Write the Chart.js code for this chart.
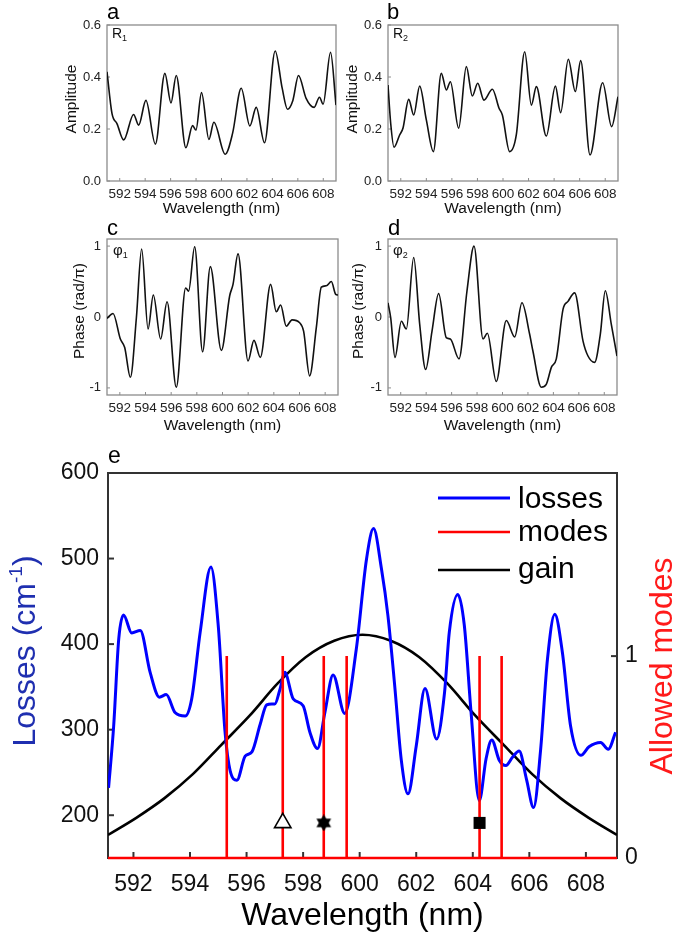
<!DOCTYPE html>
<html>
<head>
<meta charset="utf-8">
<title>Amplitude, phase and losses</title>
<script src="https://cdn.jsdelivr.net/npm/chart.js"></script>
<style>
  body { margin: 0; background: #fff; }
  .wrap { position: relative; width: 675px; height: 934px; overflow: hidden; }
  canvas { position: absolute; left: 0; }
</style>
</head>
<body>
<div class="wrap">
  <canvas id="chartA" width="675" height="222" style="top:0"></canvas>
  <canvas id="chartB" width="675" height="222" style="top:0"></canvas>
  <canvas id="chartC" width="675" height="225" style="top:215px"></canvas>
  <canvas id="chartD" width="675" height="225" style="top:215px"></canvas>
  <canvas id="chartE" width="675" height="504" style="top:430px"></canvas>
</div>
<script>
const FONT = "'Liberation Sans', Arial, sans-serif";

// shared wavelength axis of panels a-d
const wlTicks = [592, 594, 596, 598, 600, 602, 604, 606, 608];
const ampTicks = [0, 0.2, 0.4, 0.6];
const phaseTicks = [-1, 0, 1];

// a: amplitude R1
const r1Wl = [591.0, 591.39, 591.79, 592.31, 593.09, 593.49, 594.06, 594.80, 595.55, 596.03, 596.44, 597.20, 597.73, 597.99, 598.43, 599.01, 599.40, 600.29, 600.87, 601.55, 602.23, 602.73, 603.38, 604.22, 604.77, 605.19, 605.61, 606.05, 606.65, 607.28, 607.70, 607.99, 608.57, 609.0];
const r1Amp = [0.42, 0.26, 0.22, 0.158, 0.256, 0.215, 0.31, 0.142, 0.414, 0.30, 0.406, 0.128, 0.213, 0.196, 0.34, 0.16, 0.226, 0.103, 0.183, 0.357, 0.212, 0.283, 0.147, 0.50, 0.357, 0.276, 0.31, 0.406, 0.318, 0.283, 0.322, 0.296, 0.495, 0.292];

// b: amplitude R2
const r2Wl = [591.0, 591.21, 591.47, 591.91, 592.17, 592.62, 593.01, 593.48, 594.0, 594.55, 595.17, 595.57, 595.88, 596.53, 597.13, 597.60, 598.02, 598.51, 599.17, 599.69, 599.95, 600.52, 601.04, 601.70, 602.22, 602.61, 603.39, 604.10, 604.51, 605.11, 605.66, 606.08, 606.81, 607.80, 608.50, 609.0];
const r2Amp = [0.369, 0.222, 0.13, 0.177, 0.203, 0.314, 0.254, 0.365, 0.235, 0.113, 0.414, 0.35, 0.382, 0.203, 0.44, 0.327, 0.376, 0.311, 0.353, 0.28, 0.254, 0.113, 0.177, 0.497, 0.292, 0.363, 0.173, 0.365, 0.263, 0.468, 0.344, 0.463, 0.10, 0.378, 0.209, 0.324];

// c: phase phi1 (rad/pi)
const phi1Wl = [591.0, 591.47, 592.04, 592.38, 592.82, 593.29, 593.70, 594.20, 594.61, 595.18, 595.68, 596.40, 597.13, 597.36, 597.83, 598.45, 599.05, 599.91, 600.56, 600.82, 601.21, 601.99, 602.45, 602.95, 603.75, 604.19, 604.53, 604.97, 605.42, 606.01, 606.32, 606.79, 607.31, 607.70, 608.09, 608.48, 608.82, 609.0];
const phi1Val = [-0.02, 0.05, -0.31, -0.43, -0.85, -0.01, 0.96, -0.17, 0.31, -0.31, 0.215, -0.99, 0.41, 0.365, 0.99, -0.49, 0.71, -0.47, 0.30, 0.46, 0.89, -0.62, -0.33, -0.57, 0.46, 0.075, 0.17, -0.13, -0.04, -0.08, -0.2, -0.83, -0.15, 0.42, 0.44, 0.50, 0.32, 0.31];

// d: phase phi2 (rad/pi)
const phi2Wl = [591.0, 591.21, 591.55, 592.05, 592.44, 593.02, 593.49, 593.96, 594.46, 594.98, 595.58, 595.90, 596.58, 597.21, 597.76, 598.47, 598.81, 599.51, 600.30, 600.96, 601.53, 602.13, 602.39, 603.05, 603.44, 603.84, 604.23, 604.76, 605.15, 605.67, 606.33, 606.72, 607.24, 607.69, 608.08, 608.55, 609.0];
const phi2Val = [0.20, -0.01, -0.57, -0.06, -0.17, 0.84, -0.10, -0.74, -0.20, 0.33, -0.29, -0.31, -0.59, 0.37, 1.0, -0.31, -0.23, -0.91, -0.05, -0.28, 0.20, -0.24, -0.48, -0.99, -0.95, -0.71, -0.59, 0.11, 0.22, 0.34, -0.34, -0.55, -0.64, -0.24, 0.37, -0.10, -0.55];

// e: losses (cm-1), gain, allowed modes
const lossWl = [591.12, 591.30, 591.48, 591.65, 591.94, 592.24, 592.59, 592.92, 593.16, 593.47, 593.83, 594.06, 594.36, 594.74, 595.00, 595.24, 595.42, 595.66, 595.95, 596.19, 596.48, 596.71, 596.89, 597.00, 597.18, 597.35, 597.65, 598.00, 598.24, 598.51, 598.77, 599.06, 599.47, 599.88, 600.24, 600.49, 600.77, 601.00, 601.24, 601.47, 601.71, 602.00, 602.31, 602.72, 603.00, 603.17, 603.47, 603.70, 603.94, 604.23, 604.47, 604.67, 604.94, 605.17, 605.41, 605.64, 605.90, 606.15, 606.40, 606.64, 606.90, 607.17, 607.46, 607.82, 608.11, 608.52, 608.79, 609.05];
const lossVal = [232, 304, 406, 434, 413, 416, 367, 338, 341, 320, 316, 336, 414, 490, 421, 297, 252, 241, 269, 274, 306, 329, 330, 330, 347, 367, 336, 328, 297, 278, 320, 364, 319, 394, 499, 535, 488, 433, 351, 265, 225, 281, 348, 289, 343, 414, 458, 422, 320, 217, 266, 288, 264, 258, 268, 275, 242, 209, 277, 382, 435, 390, 304, 270, 280, 285, 277, 297];
const gainWl = [591.1, 592.1, 593.1, 594.1, 595.1, 596.1, 597.1, 598.1, 599.1, 600.1, 601.1, 602.1, 603.1, 604.1, 605.1, 606.1, 607.1, 608.1, 609.1];
const gainVal = [177, 197, 220, 248, 282, 316, 354, 385, 404, 411, 404, 385, 354, 316, 282, 248, 220, 197, 177];
const modeWl = [595.3, 597.28, 598.73, 599.54, 604.24, 605.02];
const markerWl = [597.28, 598.73, 604.24];
const markerLoss = [191, 191, 191];
const lossTicks = [200, 300, 400, 500, 600];
const modeTicks = [0, 1];

const pts = (xs, ys) => xs.map((x, i) => ({ x: x, y: ys[i] }));

// allowed modes: zero everywhere, a unit spike at each mode
const modeSeries = [{ x: 591.1, y: 0 }];
modeWl.forEach(m => { modeSeries.push({ x: m, y: 0 }, { x: m, y: 1 }, { x: m, y: 0 }); });
modeSeries.push({ x: 609.1, y: 0 });

// filled six-pointed star marker
function hexagram(size) {
  const c = document.createElement('canvas');
  c.width = c.height = size;
  const g = c.getContext('2d');
  const r = size / 2;
  g.fillStyle = '#000';
  [-Math.PI / 2, Math.PI / 2].forEach(off => {
    g.beginPath();
    for (let k = 0; k < 3; k++) {
      const a = off + k * 2 * Math.PI / 3;
      g.lineTo(r + r * Math.cos(a), r + r * Math.sin(a));
    }
    g.closePath();
    g.fill();
  });
  return c;
}

// text with sub/superscript parts: [text, size, dy]
function rich(ctx, parts, x, y, color, rotate, align) {
  ctx.save();
  ctx.translate(x, y);
  if (rotate) ctx.rotate(rotate);
  ctx.fillStyle = color;
  ctx.textBaseline = 'alphabetic';
  ctx.textAlign = 'left';
  let w = 0;
  parts.forEach(p => { ctx.font = p[1] + 'px ' + FONT; w += ctx.measureText(p[0]).width; });
  let cx = align === 'center' ? -w / 2 : 0;
  parts.forEach(p => {
    ctx.font = p[1] + 'px ' + FONT;
    ctx.fillText(p[0], cx, p[2]);
    cx += ctx.measureText(p[0]).width;
  });
  ctx.restore();
}

const decor = {
  chartA: { frame: '#8c8c8c', frameW: 1.3, tickLen: 3, letter: [107, 19], tag: [['R', 14, 0], ['1', 9, 3]], tagAt: [112, 38],
            yTitle: 'Amplitude', yAt: [76, 99], xAt: [221.5, 213] },
  chartB: { frame: '#8c8c8c', frameW: 1.3, tickLen: 3, letter: [387, 19], tag: [['R', 14, 0], ['2', 9, 3]], tagAt: [393, 38],
            yTitle: 'Amplitude', yAt: [357, 99], xAt: [503, 213] },
  chartC: { frame: '#8c8c8c', frameW: 1.3, tickLen: 3, letter: [107, 20], tag: [['\u03c6', 15, 0], ['1', 9, 3]], tagAt: [113, 40],
            yTitle: 'Phase (rad/\u03c0)', yAt: [84, 96], xAt: [222.5, 215] },
  chartD: { frame: '#8c8c8c', frameW: 1.3, tickLen: 3, letter: [388, 20], tag: [['\u03c6', 15, 0], ['2', 9, 3]], tagAt: [393, 40],
            yTitle: 'Phase (rad/\u03c0)', yAt: [363, 96], xAt: [502.5, 215] },
  chartE: { frame: '#333', frameW: 2, tickLen: 6, big: true }
};

const decorPlugin = {
  id: 'decor',
  beforeDatasetsDraw(chart) {
    const d = decor[chart.canvas.id];
    const ctx = chart.ctx, a = chart.chartArea;
    ctx.save();
    ctx.strokeStyle = d.frame;
    ctx.lineWidth = d.frameW;
    ctx.strokeRect(a.left, a.top, a.right - a.left, a.bottom - a.top);
    ctx.lineWidth = d.big ? 2 : 1;
    Object.values(chart.scales).forEach(s => {
      s.ticks.forEach(t => {
        const p = s.getPixelForValue(t.value);
        ctx.beginPath();
        if (s.axis === 'x') { ctx.moveTo(p, a.bottom); ctx.lineTo(p, a.bottom - d.tickLen); }
        else if (s.position === 'left') { ctx.moveTo(a.left, p); ctx.lineTo(a.left + d.tickLen, p); }
        else { ctx.moveTo(a.right, p); ctx.lineTo(a.right - d.tickLen, p); }
        ctx.stroke();
      });
    });
    ctx.restore();
  },
  afterDraw(chart) {
    const d = decor[chart.canvas.id];
    const ctx = chart.ctx;
    if (!d.big) {
      rich(ctx, [[chart.canvas.id.slice(-1).toLowerCase(), 22, 0]], d.letter[0], d.letter[1], '#000', 0, 'left');
      rich(ctx, d.tag, d.tagAt[0], d.tagAt[1], '#111', 0, 'left');
      rich(ctx, [[d.yTitle, 15.5, 0]], d.yAt[0], d.yAt[1], '#111', -Math.PI / 2, 'center');
      rich(ctx, [['Wavelength (nm)', 15.5, 0]], d.xAt[0], d.xAt[1], '#111', 0, 'center');
      return;
    }
    rich(ctx, [['e', 23, 0]], 108, 33, '#000', 0, 'left');
    rich(ctx, [['Wavelength (nm)', 32, 0]], 362.5, 495, '#000', 0, 'center');
    rich(ctx, [['Losses (cm', 32, 0], ['-1', 19, -13], [')', 32, 0]], 35, 221, '#1f2fb0', -Math.PI / 2, 'center');
    rich(ctx, [['Allowed modes', 32, 0]], 672, 236, '#ff1a1a', -Math.PI / 2, 'center');
    // legend
    const rows = [['losses', '#0000ff', 3, 68, 78], ['modes', '#ff0000', 2.5, 102, 111], ['gain', '#000', 2.5, 140, 148]];
    ctx.save();
    rows.forEach(r => {
      ctx.strokeStyle = r[1];
      ctx.lineWidth = r[2];
      ctx.beginPath();
      ctx.moveTo(438, r[3]);
      ctx.lineTo(510, r[3]);
      ctx.stroke();
      rich(ctx, [[r[0], 30, 0]], 518, r[4], '#000', 0, 'left');
    });
    ctx.restore();
  }
};

const setTicks = vals => scale => { scale.ticks = vals.map(v => ({ value: v })); };
const fixWidth = w => scale => { scale.width = w; };
const fixHeight = h => scale => { scale.height = h; };

function smallPanel(id, xs, ys, cfg) {
  new Chart(document.getElementById(id), {
    type: 'line',
    data: { datasets: [{ data: pts(xs, ys), borderColor: '#111', borderWidth: 1.6, pointRadius: 0, cubicInterpolationMode: 'monotone', fill: false }] },
    options: {
      responsive: false, animation: false, devicePixelRatio: 1,
      layout: { padding: { left: cfg.padLeft, right: cfg.padRight, top: cfg.padTop, bottom: 0 } },
      plugins: { legend: { display: false }, tooltip: { enabled: false } },
      scales: {
        x: {
          type: 'linear', min: 591, max: 609,
          grid: { display: false, drawTicks: false }, border: { display: false },
          afterBuildTicks: setTicks(wlTicks), afterFit: fixHeight(cfg.xHeight),
          ticks: { autoSkip: false, maxRotation: 0, padding: 5, color: '#222', font: { family: FONT, size: 13.5 }, callback: v => String(v) }
        },
        y: {
          type: 'linear', min: cfg.yMin, max: cfg.yMax,
          grid: { display: false, drawTicks: false }, border: { display: false },
          afterBuildTicks: setTicks(cfg.yTicks), afterFit: fixWidth(cfg.yWidth),
          ticks: { padding: 6, color: '#222', font: { family: FONT, size: 13 }, callback: cfg.fmt }
        }
      }
    },
    plugins: [decorPlugin]
  });
}

const ampFmt = v => v.toFixed(1);
const phaseFmt = v => String(v);
smallPanel('chartA', r1Wl, r1Amp, { padLeft: 0, yWidth: 107, padRight: 339, padTop: 25, xHeight: 41, yMin: 0, yMax: 0.6, yTicks: ampTicks, fmt: ampFmt });
smallPanel('chartB', r2Wl, r2Amp, { padLeft: 330, yWidth: 58, padRight: 57, padTop: 25, xHeight: 41, yMin: 0, yMax: 0.6, yTicks: ampTicks, fmt: ampFmt });
smallPanel('chartC', phi1Wl, phi1Val, { padLeft: 0, yWidth: 107, padRight: 337, padTop: 24, xHeight: 45, yMin: -1.1, yMax: 1.1, yTicks: phaseTicks, fmt: phaseFmt });
smallPanel('chartD', phi2Wl, phi2Val, { padLeft: 330, yWidth: 58, padRight: 58, padTop: 24, xHeight: 45, yMin: -1.1, yMax: 1.1, yTicks: phaseTicks, fmt: phaseFmt });

const bigTick = { family: FONT, size: 23 };
new Chart(document.getElementById('chartE'), {
  type: 'line',
  data: {
    datasets: [
      { type: 'scatter', label: 'markers', data: pts(markerWl, markerLoss), yAxisID: 'y', order: 0,
        pointStyle: ['triangle', hexagram(17), 'rect'], pointRadius: [9.5, 8.5, 8.5],
        pointBackgroundColor: ['#fff', '#000', '#000'], pointBorderColor: '#000', pointBorderWidth: [1.6, 0, 0] },
      { label: 'modes', data: modeSeries, yAxisID: 'y2', order: 1, clip: false, borderColor: '#ff0000', borderWidth: 2.6, tension: 0, pointRadius: 0, fill: false },
      { label: 'losses', data: pts(lossWl, lossVal), yAxisID: 'y', order: 2, borderColor: '#0000ff', borderWidth: 3, pointRadius: 0, cubicInterpolationMode: 'monotone', fill: false },
      { label: 'gain', data: pts(gainWl, gainVal), yAxisID: 'y', order: 3, borderColor: '#000', borderWidth: 2.6, pointRadius: 0, cubicInterpolationMode: 'monotone', fill: false }
    ]
  },
  options: {
    responsive: false, animation: false, devicePixelRatio: 1,
    layout: { padding: { left: 0, right: 0, top: 43, bottom: 0 } },
    plugins: { legend: { display: false }, tooltip: { enabled: false } },
    scales: {
      x: {
        type: 'linear', min: 591.1, max: 609.1,
        grid: { display: false, drawTicks: false }, border: { display: false },
        afterBuildTicks: setTicks(wlTicks), afterFit: fixHeight(76),
        ticks: { autoSkip: false, maxRotation: 0, padding: 13, color: '#111', font: bigTick, callback: v => String(v) }
      },
      y: {
        type: 'linear', position: 'left', min: 150, max: 600,
        grid: { display: false, drawTicks: false }, border: { display: false },
        afterBuildTicks: setTicks(lossTicks), afterFit: fixWidth(108),
        ticks: { padding: 9, color: '#111', font: bigTick, callback: v => String(v) }
      },
      y2: {
        type: 'linear', position: 'right', min: 0, max: 1.907,
        grid: { display: false, drawTicks: false }, border: { display: false },
        afterBuildTicks: setTicks(modeTicks), afterFit: fixWidth(58),
        ticks: { padding: 8, color: '#111', font: bigTick, callback: v => String(v) }
      }
    }
  },
  plugins: [decorPlugin]
});
</script>
</body>
</html>
